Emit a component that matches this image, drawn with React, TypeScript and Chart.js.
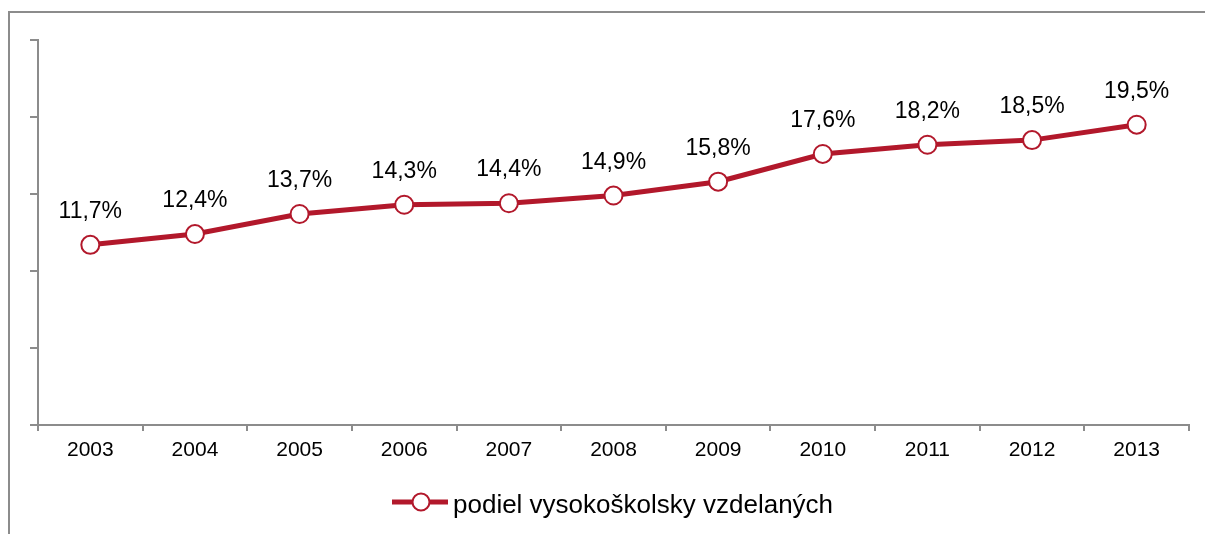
import React, { useEffect, useRef } from "react";
import { Chart, registerables } from "chart.js";

Chart.register(...registerables);

const years = ["2003", "2004", "2005", "2006", "2007", "2008", "2009", "2010", "2011", "2012", "2013"];
const shareValues = [11.7, 12.4, 13.7, 14.3, 14.4, 14.9, 15.8, 17.6, 18.2, 18.5, 19.5];
const seriesLabel = "podiel vysokoškolsky vzdelaných";
const yMin = 0;
const yMax = 25;
const yStep = 5;

const RED = "#B2182B";
const GRAY = "#8c8c8c";
const FONT = "'Liberation Sans', Arial, sans-serif";

const fmt = (v: number) => v.toFixed(1).replace(".", ",") + "%";

const labelsPlugin = {
  id: "labelsAndLegend",
  afterDatasetsDraw(chart: any) {
    const ctx = chart.ctx;
    const meta = chart.getDatasetMeta(0);
    ctx.save();
    ctx.fillStyle = "#000";
    ctx.font = `23px ${FONT}`;
    ctx.textAlign = "center";
    ctx.textBaseline = "alphabetic";
    meta.data.forEach((pt: any, i: number) => {
      ctx.fillText(fmt(shareValues[i]), pt.x, pt.y - 27);
    });
    // legend
    const ly = 489;
    ctx.strokeStyle = RED;
    ctx.lineWidth = 5;
    ctx.beginPath();
    ctx.moveTo(382, ly);
    ctx.lineTo(438, ly);
    ctx.stroke();
    ctx.beginPath();
    ctx.arc(411, ly, 8.5, 0, Math.PI * 2);
    ctx.fillStyle = "#fff";
    ctx.fill();
    ctx.lineWidth = 2;
    ctx.stroke();
    ctx.fillStyle = "#000";
    ctx.font = `26px ${FONT}`;
    ctx.textAlign = "left";
    ctx.fillText(seriesLabel, 443, 500);
    ctx.restore();
  },
};

export default function App() {
  const ref = useRef<HTMLCanvasElement>(null);
  useEffect(() => {
    if (!ref.current) return;
    const chart = new Chart(ref.current, {
      type: "line",
      data: {
        labels: years,
        datasets: [
          {
            label: seriesLabel,
            data: shareValues,
            borderColor: RED,
            borderWidth: 5,
            tension: 0,
            pointRadius: 9,
            pointBorderWidth: 2,
            pointBackgroundColor: "#fff",
            pointBorderColor: RED,
          },
        ],
      },
      options: {
        animation: false,
        responsive: false,
        layout: { padding: { top: 27, right: 16, left: 0, bottom: 0 } },
        plugins: { legend: { display: false }, tooltip: { enabled: false } },
        scales: {
          x: {
            offset: true,
            grid: { offset: true, drawOnChartArea: false, tickLength: 6, color: GRAY, lineWidth: 2 },
            border: { color: GRAY, width: 2 },
            ticks: { color: "#000", font: { family: FONT, size: 21 }, padding: 7, maxRotation: 0 },
            afterFit: (s: any) => {
              s.height = 101;
            },
          },
          y: {
            min: yMin,
            max: yMax,
            ticks: { stepSize: yStep, display: false },
            grid: { drawOnChartArea: false, tickLength: 8, color: GRAY, lineWidth: 2 },
            border: { color: GRAY, width: 2 },
            afterFit: (s: any) => {
              s.width = 28;
            },
          },
        },
      },
      plugins: [labelsPlugin],
    });
    return () => chart.destroy();
  }, []);
  return (
    <div style={{ position: "fixed", left: 0, top: 0, width: 1205, height: 534, overflow: "hidden", background: "#fff" }}>
      <div
        style={{
          position: "absolute",
          left: 8,
          top: 11,
          width: 1210,
          height: 540,
          borderLeft: `2px solid ${GRAY}`,
          borderTop: `2px solid ${GRAY}`,
        }}
      >
        <canvas ref={ref} width={1195} height={513} style={{ display: "block" }} />
      </div>
    </div>
  );
}
